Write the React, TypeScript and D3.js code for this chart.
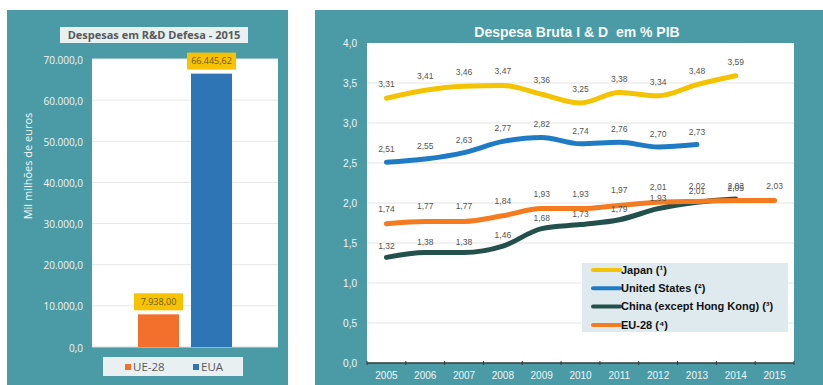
import React from "react";
import * as d3 from "d3";

// ---- Left chart data ----
const barCategories = ["UE-28", "EUA"];
const barValues = [7938.0, 66445.62];
const barLabels = ["7.938,00", "66.445,62"];
const barColors = ["#f26f2c", "#2e75b6"];
const barTicks = [0, 10000, 20000, 30000, 40000, 50000, 60000, 70000];

// ---- Right chart data ----
const years = ["2005", "2006", "2007", "2008", "2009", "2010", "2011", "2012", "2013", "2014", "2015"];
const japan = [3.31, 3.41, 3.46, 3.47, 3.36, 3.25, 3.38, 3.34, 3.48, 3.59];
const unitedStates = [2.51, 2.55, 2.63, 2.77, 2.82, 2.74, 2.76, 2.70, 2.73];
const china = [1.32, 1.38, 1.38, 1.46, 1.68, 1.73, 1.79, 1.93, 2.01, 2.05];
const eu28 = [1.74, 1.77, 1.77, 1.84, 1.93, 1.93, 1.97, 2.01, 2.02, 2.03, 2.03];
const lineTicks = [0, 0.5, 1, 1.5, 2, 2.5, 3, 3.5, 4];

const series = [
  { name: "Japan (¹)", values: japan, color: "#f3c300", labelOffset: 14 },
  { name: "United States (²)", values: unitedStates, color: "#1f7bc4", labelOffset: 13 },
  { name: "China (except Hong Kong) (³)", values: china, color: "#24504b", labelOffset: 11 },
  { name: "EU-28 (⁴)", values: eu28, color: "#f47b20", labelOffset: 15 },
];
const drawOrder = [0, 1, 2, 3];

const TEAL = "#4b9ba6";
const fmt = (v: number, d: number) => v.toFixed(d).replace(".", ",");
const fmtThousands = (v: number) => {
  const s = d3.format(",.1f")(v);
  return s.replace(/,/g, "#").replace(".", ",").replace(/#/g, ".");
};

export default function App() {
  // left chart scales
  const lp = { left: 92, right: 278, top: 59, bottom: 347 };
  const ly = d3.scaleLinear().domain([0, 70000]).range([lp.bottom, lp.top]);
  const lxOuter = d3.scaleBand().domain(["2015"]).range([lp.left, lp.right]).paddingInner(0).paddingOuter(0.489);
  const g0 = lxOuter("2015")!;
  const lx = d3.scaleBand().domain(barCategories).range([g0, g0 + lxOuter.bandwidth()]).paddingInner(0.226);

  // right chart scales
  const rp = { left: 367, right: 794, top: 43, bottom: 363 };
  const ry = d3.scaleLinear().domain([0, 4]).range([rp.bottom, rp.top]);
  const rx = d3.scaleBand().domain(years).range([rp.left, rp.right]);
  const cx = (i: number) => rx(years[i])! + rx.bandwidth() / 2;
  const line = d3.line<number>().x((_, i) => cx(i)).y((d) => ry(d)).curve(d3.curveMonotoneX);

  const fontL = "'Open Sans', 'Liberation Sans', sans-serif";
  const fontR = "'Liberation Sans', Arial, sans-serif";

  return (
    <svg width={823} height={385} style={{ position: "absolute", left: 0, top: 0 }}>
      <rect x={0} y={0} width={823} height={385} fill="#ffffff" />
      {/* ---------- Left panel ---------- */}
      <rect x={7} y={10} width={281} height={375} fill={TEAL} />
      <rect x={lp.left} y={lp.top} width={lp.right - lp.left} height={lp.bottom - lp.top} fill="#ffffff" />
      {barTicks.map((t) => (
        <g key={t}>
          {t > 0 && <line x1={lp.left} x2={lp.right} y1={ly(t)} y2={ly(t)} stroke="#e6e6e6" strokeWidth={1} />}
          <text x={83} y={ly(t) + 1} dy="0.35em" textAnchor="end" fontSize={10} fill="#eef6f7" fontFamily={fontL}>
            {fmtThousands(t)}
          </text>
        </g>
      ))}
      <line x1={lp.left} x2={lp.right} y1={lp.bottom} y2={lp.bottom} stroke="#d9d9d9" />
      <rect x={60} y={27} width={188} height={16} fill="#e8f0f1" />
      <text x={154} y={35} dy="0.35em" textAnchor="middle" fontSize={11} fontWeight="bold" fill="#595959" fontFamily={fontL}>
        Despesas em R&amp;D Defesa - 2015
      </text>
      <text transform={`translate(28,166) rotate(-90)`} textAnchor="middle" dy="0.35em" fontSize={11} fill="#f2f8f8" fontFamily={fontL}>
        Mil milhões de euros
      </text>
      {barCategories.map((c, i) => {
        const x = lx(c)!;
        const w = lx.bandwidth();
        const y = ly(barValues[i]);
        return (
          <g key={c}>
            <rect x={x} y={y} width={w} height={lp.bottom - y} fill={barColors[i]} />
            <rect x={x + w / 2 - 24.5} y={y - 21} width={49} height={17} fill="#f7c200" />
            <text x={x + w / 2} y={y - 12.5} dy="0.35em" textAnchor="middle" fontSize={9} fill="#6b5a10" fontFamily={fontL}>
              {barLabels[i]}
            </text>
          </g>
        );
      })}
      <rect x={103} y={357} width={140} height={19} fill="#e8f0f1" />
      {barCategories.map((c, i) => (
        <g key={c} transform={`translate(${[125, 193][i]},367)`}>
          <rect x={0} y={-3} width={6} height={6} fill={barColors[i]} />
          <text x={8} y={0} dy="0.35em" fontSize={11.5} fill="#595959" fontFamily={fontL}>
            {c}
          </text>
        </g>
      ))}

      {/* ---------- Right panel ---------- */}
      <rect x={315} y={10} width={508} height={375} fill={TEAL} />
      <rect x={rp.left} y={rp.top} width={rp.right - rp.left} height={rp.bottom - rp.top} fill="#ffffff" />
      <text x={577} y={32} dy="0.35em" textAnchor="middle" fontSize={14} fontWeight="bold" fill="#f4f9f9" fontFamily={fontR} style={{ whiteSpace: "pre" }}>
        {"Despesa Bruta I & D  em % PIB"}
      </text>
      {lineTicks.map((t) => (
        <g key={t}>
          {t > 0 && t < 4 && <line x1={rp.left} x2={rp.right} y1={ry(t)} y2={ry(t)} stroke="#e4e4e4" strokeWidth={1} />}
          <text x={357} y={ry(t)} dy="0.35em" textAnchor="end" fontSize={10} fill="#eef6f7" fontFamily={fontR}>
            {fmt(t, 1)}
          </text>
        </g>
      ))}
      <line x1={rp.left} x2={rp.right} y1={rp.bottom} y2={rp.bottom} stroke="#2f3b3b" strokeWidth={1.5} />
      {years.map((y, i) => (
        <g key={y}>
          <line x1={rx(y)!} x2={rx(y)!} y1={rp.bottom - 2} y2={rp.bottom + 2} stroke="#2f3b3b" strokeWidth={1} />
          <text x={cx(i)} y={375} dy="0.35em" textAnchor="middle" fontSize={10} fill="#eef6f7" fontFamily={fontR}>
            {y}
          </text>
        </g>
      ))}
      <line x1={rp.right} x2={rp.right} y1={rp.bottom - 2} y2={rp.bottom + 2} stroke="#2f3b3b" strokeWidth={1} />
      {drawOrder.map((k) => (
        <path key={k} d={line(series[k].values) || ""} fill="none" stroke={series[k].color} strokeWidth={5} strokeLinecap="round" strokeLinejoin="round" />
      ))}
      {series.map((s, k) =>
        s.values.map((v, i) => (
          <text key={`${k}-${i}`} x={cx(i)} y={ry(v) - s.labelOffset} dy="0.35em" textAnchor="middle" fontSize={8.5} fill="#555" fontFamily={fontR}>
            {fmt(v, 2)}
          </text>
        ))
      )}
      <rect x={582} y={263} width={206} height={69} fill="#dfeaee" />
      {series.map((s, k) => (
        <g key={s.name} transform={`translate(593,${270 + k * 18.3})`}>
          <line x1={0} x2={27} y1={0} y2={0} stroke={s.color} strokeWidth={4} strokeLinecap="round" />
          <text x={28} y={0} dy="0.35em" fontSize={11} fontWeight="bold" fill="#111" fontFamily={fontR}>
            {s.name}
          </text>
        </g>
      ))}
    </svg>
  );
}
